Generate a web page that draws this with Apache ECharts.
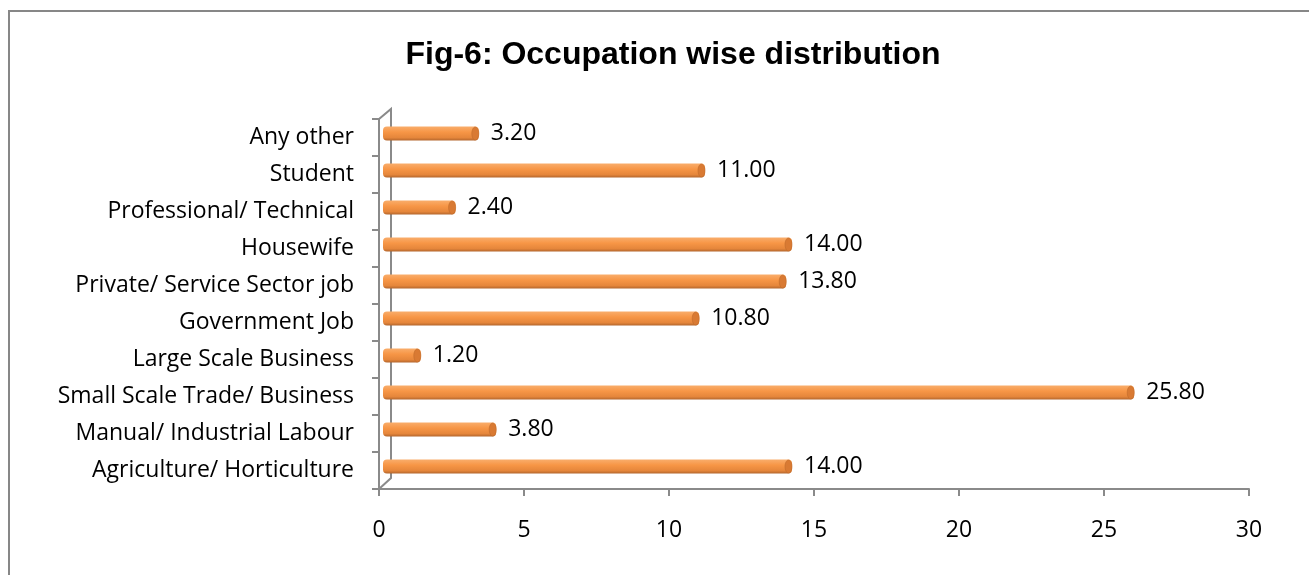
<!DOCTYPE html>
<html>
<head>
<meta charset="utf-8">
<script src="https://cdn.jsdelivr.net/npm/echarts@6/dist/echarts.min.js"></script>
<style>
  html, body { margin: 0; padding: 0; background: #fff; }
  #chart { width: 1309px; height: 575px; }
</style>
</head>
<body>
<div id="chart"></div>
<script>
// categories bottom -> top, as they sit on the axis
let categories = [
	'Agriculture/ Horticulture',
	'Manual/ Industrial Labour',
	'Small Scale Trade/ Business',
	'Large Scale Business',
	'Government Job',
	'Private/ Service Sector job',
	'Housewife',
	'Professional/ Technical',
	'Student',
	'Any other'
];
let values = [14.0, 3.8, 25.8, 1.2, 10.8, 13.8, 14.0, 2.4, 11.0, 3.2];
let xTicks = { min: 0, max: 30, interval: 5 };

// plot box in pixels
let gridLeft = 379, gridRight = 60, gridTop = 119, gridBottom = 86;
let depth = 12; // 3d wall offset
let axisGrey = '#8a8a8a';

let chart = echarts.init(document.getElementById('chart'));

let barFill = new echarts.graphic.LinearGradient(0, 0, 0, 1, [
	{ offset: 0, color: '#f9ad6b' },
	{ offset: 0.4, color: '#f79646' },
	{ offset: 0.8, color: '#e5863b' },
	{ offset: 1, color: '#b3662d' }
]);

function renderBar(params, api) {
	let v = api.value(0);
	let c = api.value(1);
	let start = api.coord([0, c]);
	let end = api.coord([v, c]);
	let h = 14;
	let x0 = start[0] + 4;
	let x1 = end[0] + 7;
	let y = start[1] - 4 - h / 2;
	return {
		type: 'group',
		children: [
			{
				type: 'rect',
				shape: { x: x0, y: y, width: x1 - x0, height: h, r: 4 },
				style: { fill: barFill }
			},
			{
				type: 'ellipse',
				shape: { cx: x1 - 3.5, cy: y + h / 2, rx: 3.5, ry: h / 2 - 0.5 },
				style: { fill: '#d97a33', stroke: '#c06c2c', lineWidth: 0.6 }
			},
			{
				type: 'text',
				style: {
					x: x1 + 12, y: y + h / 2,
					text: v.toFixed(2),
					fill: '#000',
					font: '23px "Open Sans"',
					verticalAlign: 'middle'
				}
			}
		]
	};
}

let option = {
	backgroundColor: '#ffffff',
	animation: false,
	title: {
		text: 'Fig-6: Occupation wise distribution',
		left: 668,
		top: 34,
		textAlign: 'center',
		textStyle: {
			fontFamily: 'Liberation Sans',
			fontWeight: 'bold',
			fontSize: 32,
			color: '#000'
		}
	},
	grid: { left: gridLeft, right: gridRight, top: gridTop, bottom: gridBottom, containLabel: false },
	xAxis: {
		type: 'value',
		min: xTicks.min,
		max: xTicks.max,
		interval: xTicks.interval,
		axisLine: { show: true, lineStyle: { color: axisGrey, width: 2 } },
		axisTick: { show: true, length: 7, lineStyle: { color: axisGrey, width: 2 } },
		splitLine: { show: false },
		axisLabel: { margin: 30, fontSize: 23, color: '#000', fontFamily: 'Open Sans' }
	},
	yAxis: {
		type: 'category',
		data: categories,
		axisLine: { show: true, lineStyle: { color: axisGrey, width: 2 } },
		axisTick: { show: true, length: 7, lineStyle: { color: axisGrey, width: 2 } },
		axisLabel: { margin: 25, fontSize: 23, color: '#000', fontFamily: 'Open Sans' }
	},
	series: [{
		type: 'custom',
		renderItem: renderBar,
		encode: { x: 0, y: 1 },
		data: values.map((v, i) => [v, i]),
		z: 3
	}]
};

chart.setOption(option);

// outer chart border and the 3d back wall of the vertical axis
let W = chart.getWidth(), H = chart.getHeight();
let bx = gridLeft, by0 = gridTop, by1 = H - gridBottom;
chart.setOption({
	graphic: [
		{
			type: 'rect', silent: true,
			shape: { x: 9, y: 11, width: W + 20, height: H + 20 },
			style: { fill: null, stroke: '#878787', lineWidth: 2 }
		},
		{
			type: 'polyline', silent: true,
			shape: { points: [[bx, by0], [bx + depth, by0 - 10], [bx + depth, by1 - 11], [bx, by1]] },
			style: { fill: null, stroke: axisGrey, lineWidth: 2 }
		}
	]
});
</script>
</body>
</html>
